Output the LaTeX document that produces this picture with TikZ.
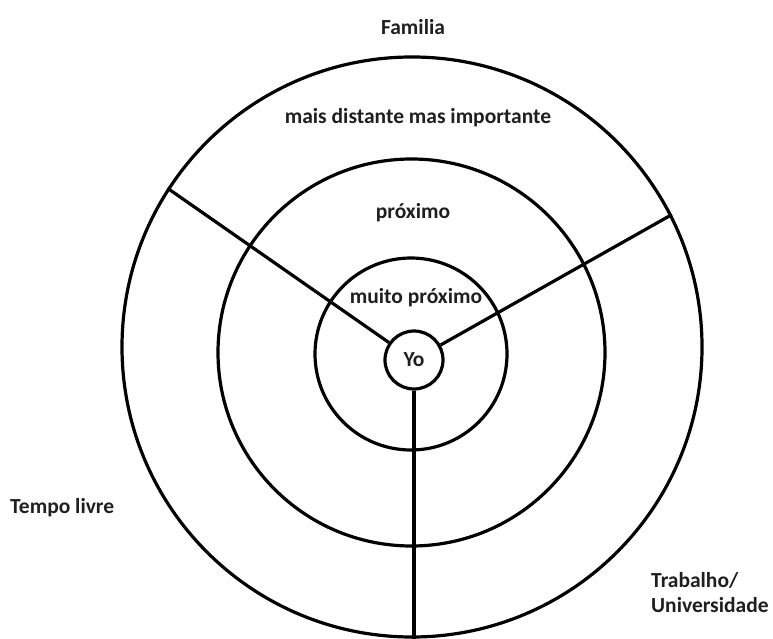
\documentclass[tikz,border=0pt]{standalone}
\usepackage{fontspec}
\setmainfont{Carlito}
\begin{document}
\begin{tikzpicture}[x=1pt,y=-1pt,
  ring/.style={circle, draw, line width=3.2pt, inner sep=0pt, minimum size=#1},
  spoke/.style={line width=3.2pt},
  lbl/.style={font=\bfseries\fontsize{21.5}{25}\selectfont, text=black!88, inner sep=0pt}]
  \useasboundingbox (0,0) rectangle (773,639);
  % concentric rings
  \node[ring=580pt] (outer) at (412,347) {};
  \node[ring=387pt] (mid) at (411.5,352.5) {};
  \node[ring=192pt] (inner) at (411,354) {};
  \node[ring=58pt, lbl] (yo) at (414,360) {Yo};
  % spokes from the centre
  \coordinate (base) at (414,639);
  \draw[spoke] (yo) -- (outer.147.7);
  \draw[spoke] (yo) -- (outer.27.7);
  \draw[spoke] (yo) -- (base);
  % labels
  \node[lbl] (fam) at (413,27) {Familia};
  \node[lbl] (far) at (418,118) {mais distante mas importante};
  \node[lbl] (near) at (413,213) {próximo};
  \node[lbl] (vnear) at (416,298) {muito próximo};
  \node[lbl, anchor=west] (free) at (10,508) {Tempo livre};
  \node[lbl, anchor=north west, align=left] (work) at (651,572) {Trabalho/\\Universidade};
\end{tikzpicture}
\end{document}
